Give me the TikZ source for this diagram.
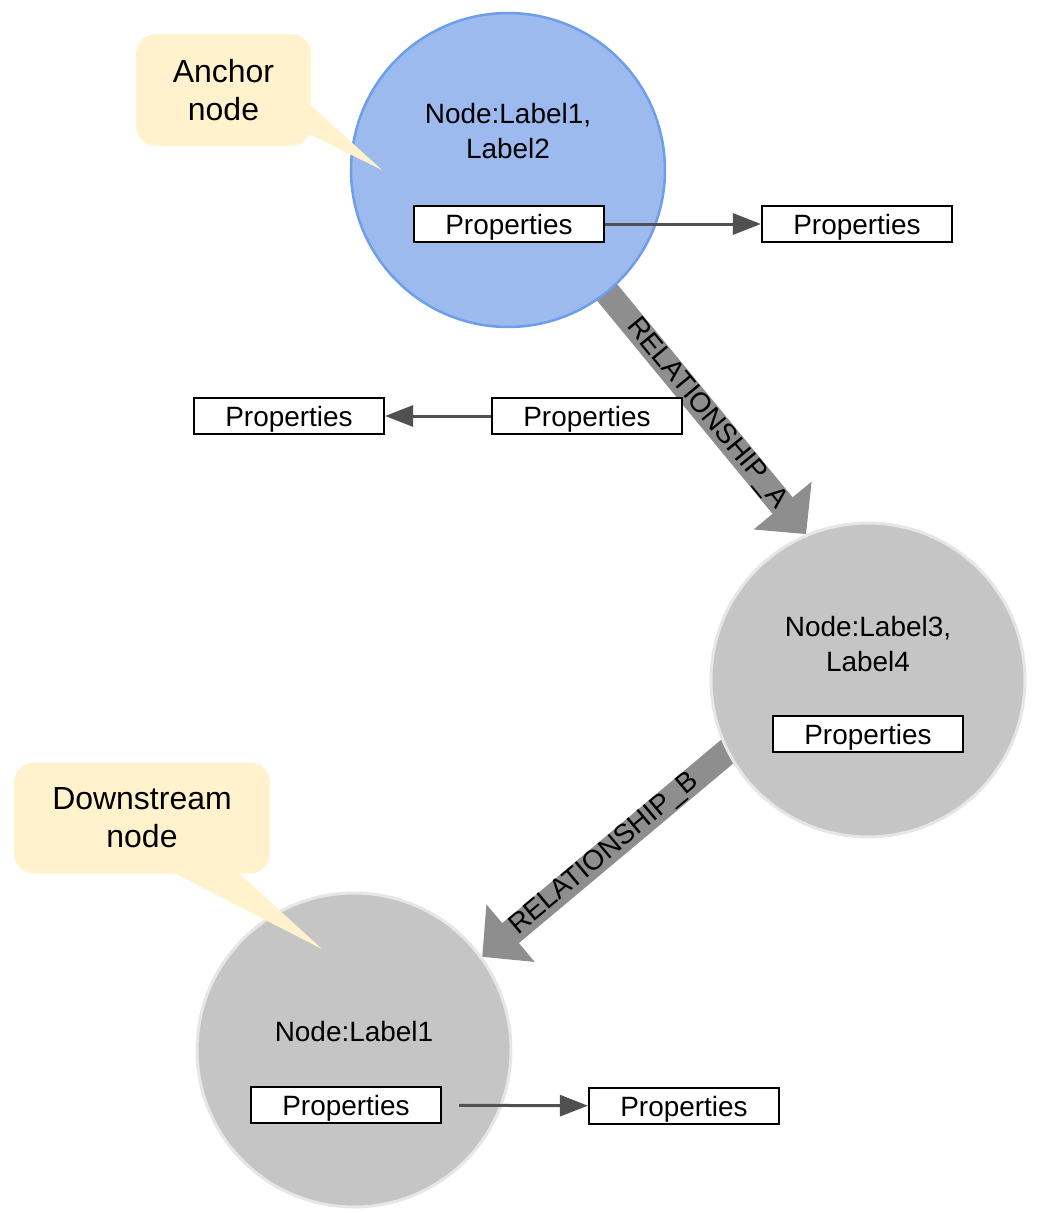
\documentclass[tikz,border=0pt]{standalone}
\usepackage{fontspec}
\setmainfont{Liberation Sans}
\usetikzlibrary{arrows.meta,backgrounds,positioning}
\definecolor{anchorfill}{HTML}{9DBAEE}
\definecolor{anchorline}{HTML}{6D9EEB}
\definecolor{plainfill}{HTML}{C5C5C5}
\definecolor{plainline}{HTML}{E6E6E6}
\definecolor{relgray}{HTML}{8E8E8E}
\definecolor{notefill}{HTML}{FFF2CC}
\definecolor{propline}{HTML}{505050}
\begin{document}
\begin{tikzpicture}[x=0.02cm,y=-0.02cm,
	graphnode/.style={circle,minimum size=6.28cm,inner sep=0pt},
	nodetext/.style={align=center,font=\fontsize{15.9}{19.9}\selectfont},
	propbox/.style={draw=black,fill=white,line width=0.045cm,minimum width=3.8cm,minimum height=0.72cm,inner sep=0pt,text depth=0pt,font=\fontsize{15.9}{19}\selectfont},
	proparrow/.style={draw=propline,line width=0.06cm,-{Triangle[length=0.56cm,width=0.42cm]}},
	relarrow/.style={draw=relgray,line width=0.52cm,-{Triangle[length=0.74cm,width=1.46cm]}},
	rellabel/.style={sloped,font=\fontsize{15.9}{19}\selectfont},
	notebox/.style={fill=notefill,rounded corners=0.4cm,align=center,font=\fontsize{18.2}{21.6}\selectfont}]
	\useasboundingbox (0,0) rectangle (1038,1214);
	\node [graphnode,fill=anchorfill,draw=anchorline,line width=0.05cm] (anchor) at (508,170) {};
	\node [graphnode,fill=plainfill,draw=plainline,line width=0.06cm] (second) at (868,680) {};
	\node [graphnode,fill=plainfill,draw=plainline,line width=0.06cm] (downstream) at (354,1050) {};
	\node [nodetext] (anchortext) at (508,131) {Node:Label1,\\Label2};
	\node [nodetext] (secondtext) at (868,644) {Node:Label3,\\Label4};
	\node [nodetext] (downtext) at (354,1032) {Node:Label1};
	\node [propbox] (anchorprop) at (509,224) {Properties};
	\node [propbox] (anchorprop2) at (857,224) {Properties};
	\node [propbox] (relprop) at (587,416) {Properties};
	\node [propbox] (relprop2) at (289,416) {Properties};
	\node [propbox] (secondprop) at (868,734) {Properties};
	\node [propbox] (downprop) at (346,1105) {Properties};
	\node [propbox] (downprop2) at (684,1106) {Properties};
	\draw [proparrow] (anchorprop) -- (anchorprop2);
	\draw [proparrow] (relprop) -- (relprop2);
	\draw [proparrow,shorten <=0.34cm] (downprop) -- (downprop2);
	\begin{pgfonlayer}{background}
		\draw [relarrow,shorten <=-0.4cm] (anchor.-51) -- node [rellabel] {RELATIONSHIP\_A} (second.113);
		\draw [relarrow,shorten <=-0.4cm] (second.207) -- node [rellabel] {RELATIONSHIP\_B} (downstream.36);
	\end{pgfonlayer}
	\node [notebox,minimum width=3.5cm,minimum height=2.24cm] (anchornote) at (223.5,90) {Anchor\\node};
	\fill [notefill] (305,100) -- (382,170) -- (305,132) -- cycle;
	\node [notebox,minimum width=5.12cm,minimum height=2.22cm] (downnote) at (142,818) {Downstream\\node};
	\fill [notefill] (164,868) -- (322,949) -- (233,868) -- cycle;
\end{tikzpicture}
\end{document}
